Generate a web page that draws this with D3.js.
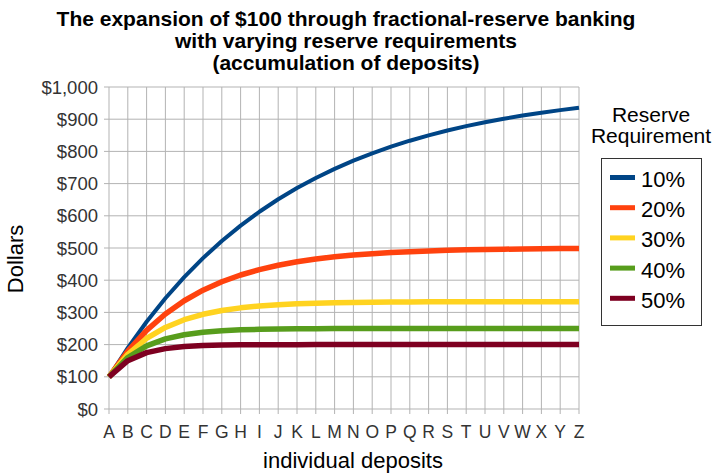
<!DOCTYPE html>
<html><head><meta charset="utf-8">
<script src="https://cdn.jsdelivr.net/npm/d3@7/dist/d3.min.js"></script>
<style>body{margin:0;background:#fff}svg{display:block}text{font-family:"Liberation Sans",Arial,sans-serif}</style>
</head><body><svg id="c" width="712" height="475"></svg>
<script>
const categories = "ABCDEFGHIJKLMNOPQRSTUVWXYZ".split("");
const seriesNames = ["10%","20%","30%","40%","50%"];
const r10 = [100,190,271,343.9,409.5,468.6,521.7,569.5,612.6,651.3,686.2,717.6,745.8,771.2,794.1,814.7,833.2,849.9,864.9,878.4,890.6,901.5,911.4,920.2,928.2,935.4];
const r20 = [100,180,244,295.2,336.2,368.9,395.1,416.1,432.9,446.3,457.1,465.6,472.5,478.0,482.4,485.9,488.7,491.0,492.8,494.2,495.4,496.3,497.0,497.6,498.1,498.5];
const r30 = [100,170,219,253.3,277.3,294.1,305.9,314.1,319.9,323.9,326.7,328.7,330.1,331.1,331.8,332.2,332.6,332.8,333.0,333.1,333.2,333.2,333.2,333.3,333.3,333.3];
const r40 = [100,160,196,217.6,230.6,238.3,243.0,245.8,247.5,248.5,249.1,249.5,249.7,249.8,249.9,249.9,250,250,250,250,250,250,250,250,250,250];
const r50 = [100,150,175,187.5,193.8,196.9,198.4,199.2,199.6,199.8,199.9,200,200,200,200,200,200,200,200,200,200,200,200,200,200,200];
const yTicks = [0,100,200,300,400,500,600,700,800,900,1000];
const titleLines = ["The expansion of $100 through fractional-reserve banking","with varying reserve requirements","(accumulation of deposits)"];
const colors = ["#004586","#ff420e","#ffd320","#579d1c","#7e0021"];
const widths = [4,5.5,5.5,5.5,5.5];
const series = [r10,r20,r30,r40,r50];

const svg = d3.select("#c");
const L=109,R=579,T=87,B=409;
const x = d3.scalePoint().domain(categories).range([L,R]);
const y = d3.scaleLinear().domain([0,1000]).range([B,T]);
const grid="#b3b3b3";

svg.append("g").selectAll("line").data(yTicks).join("line")
  .attr("x1",L-5).attr("x2",R).attr("y1",d=>y(d)).attr("y2",d=>y(d))
  .attr("stroke",grid).attr("stroke-width",1);
svg.append("g").selectAll("line").data(categories).join("line")
  .attr("x1",d=>x(d)).attr("x2",d=>x(d)).attr("y1",T).attr("y2",B+5)
  .attr("stroke",grid).attr("stroke-width",1);

svg.append("g").selectAll("text").data(yTicks).join("text")
  .attr("x",L-11).attr("y",d=>y(d)+6.5).attr("text-anchor","end")
  .attr("font-size",18.5).attr("fill","#333")
  .text(d=>d3.format("$,")(d));
svg.append("g").selectAll("text").data(categories).join("text")
  .attr("x",d=>x(d)).attr("y",438).attr("text-anchor","middle")
  .attr("font-size",17.5).attr("fill","#333").text(d=>d);

const line = d3.line().x((d,i)=>x(categories[i])).y(d=>y(d));
series.forEach((s,i)=>{
  svg.append("path").datum(s).attr("d",line).attr("fill","none")
    .attr("stroke",colors[i]).attr("stroke-width",widths[i]).attr("stroke-linejoin","round");
});

svg.append("g").selectAll("text").data(titleLines).join("text")
  .attr("x",346).attr("y",(d,i)=>26+i*22).attr("text-anchor","middle")
  .attr("font-size",21).attr("font-weight","bold").attr("fill","#000")
  .attr("font-family","'Liberation Sans Narrow','Liberation Sans',Arial,sans-serif")
  .text(d=>d);

svg.append("text").attr("x",353).attr("y",468).attr("text-anchor","middle")
  .attr("font-size",22).attr("fill","#000").text("individual deposits");
svg.append("text").attr("transform","translate(23,259) rotate(-90)").attr("text-anchor","middle")
  .attr("font-size",22).attr("fill","#000").text("Dollars");

svg.append("text").attr("x",651).attr("y",122).attr("text-anchor","middle").attr("font-size",21).text("Reserve");
svg.append("text").attr("x",651).attr("y",143).attr("text-anchor","middle").attr("font-size",21).text("Requirement");
svg.append("rect").attr("x",601.5).attr("y",158.5).attr("width",100).attr("height",167)
  .attr("fill","#fff").attr("stroke","#333").attr("stroke-width",1);
const lg = svg.append("g").selectAll("g").data(seriesNames).join("g")
  .attr("transform",(d,i)=>`translate(0,${177.5+i*30.2})`);
lg.append("line").attr("x1",610).attr("x2",635).attr("y1",0).attr("y2",0)
  .attr("stroke",(d,i)=>colors[i]).attr("stroke-width",5);
lg.append("text").attr("x",641).attr("y",9.5).attr("font-size",22).attr("fill","#000").text(d=>d);
</script></body></html>
